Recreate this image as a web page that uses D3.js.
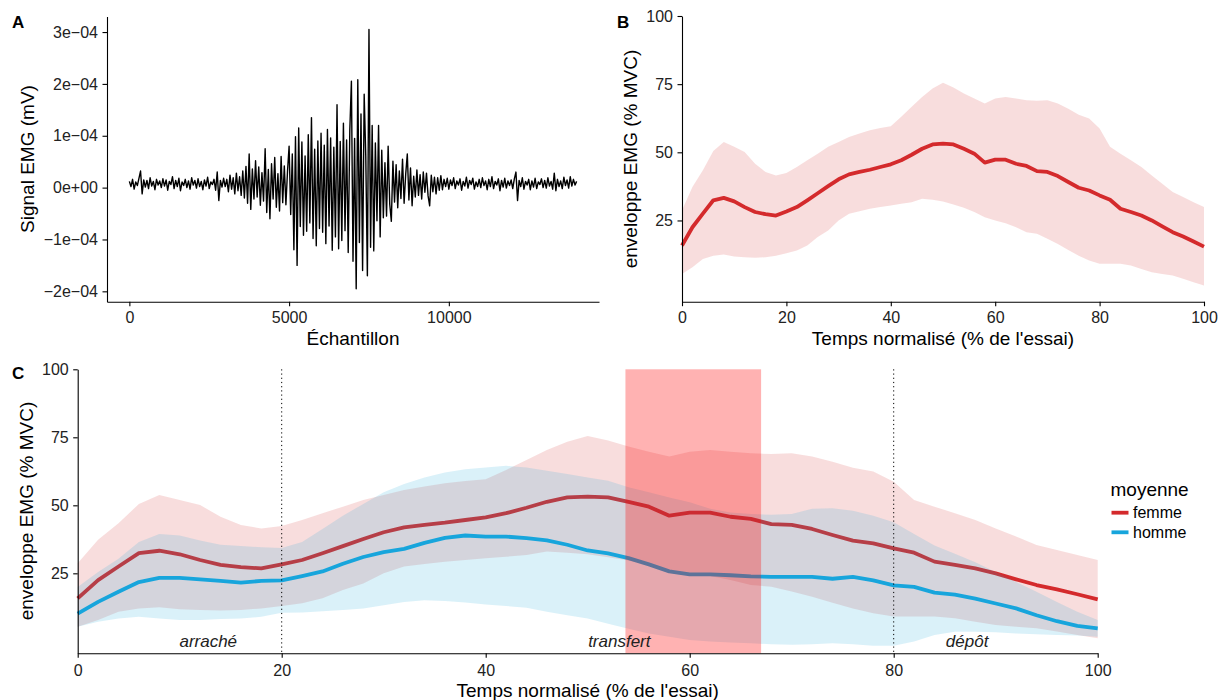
<!DOCTYPE html>
<html>
<head>
<meta charset="utf-8">
<script src="https://cdn.jsdelivr.net/npm/d3@7"></script>
<style>
  body { margin: 0; background: #fff; }
  text { font-family: "Liberation Sans", Arial, sans-serif; }
</style>
</head>
<body>
<div id="chart"></div>
<script>
// ---- Panel A : raw EMG signal (one value every 50 samples, unit 1e-5 mV) ----
var emgStep = 50;
var emgValues = [
  1.2,0.2,1.6,-0.3,1.1,0.4,1.8,3.2,-1.2,1.5,0.1,1.4,-0.2,1.9,0.3,1.2,-0.4,1.6,0.5,1.3,
  0.0,1.7,0.3,1.5,-0.5,1.2,0.6,2.1,-0.2,1.4,0.2,1.8,-0.6,1.1,0.4,1.6,0.0,1.3,-0.3,1.9,
  0.5,1.4,-0.1,1.7,0.2,1.2,-0.4,1.5,0.3,2.0,-0.2,1.1,0.6,1.6,-0.5,3.0,-2.5,1.4,0.1,1.8,
  0.2,1.6,-0.8,2.4,-0.3,1.9,-1.2,2.8,-0.6,2.1,-1.5,3.2,-2.0,4.1,-3.0,6.5,-4.2,3.6,-2.2,5.2,
  -1.8,4.0,-3.4,2.9,-2.6,7.5,-4.8,3.5,-6.0,4.6,-2.2,5.8,-3.8,2.7,-4.5,6.0,-2.9,4.2,-3.3,3.1,
  8.0,-5.2,6.5,-12.0,9.8,-15.0,11.5,-7.5,8.8,-9.2,6.1,-8.4,10.2,-6.8,13.5,-9.8,7.4,-11.2,9.0,-7.9,
  10.5,-8.6,8.2,-10.8,11.2,-7.4,9.6,-12.1,7.8,-9.5,16.0,-11.8,8.9,-10.2,12.4,-8.3,9.2,-12.5,11.0,20.5,
  -14.2,9.5,-19.5,20.8,-10.6,14.2,-16.0,18.0,6.0,-17.0,30.5,-11.5,12.0,-12.2,8.6,-6.4,12.0,-9.5,7.2,-5.8,
  4.8,-5.5,8.0,-3.2,-6.5,5.1,-2.8,4.4,-3.9,3.2,-2.1,5.5,-3.0,2.6,6.5,-2.4,3.8,-3.5,2.2,-1.8,
  3.4,-1.5,2.5,-2.2,3.0,-0.9,2.8,-1.6,-3.5,2.4,-0.8,2.0,-1.2,1.9,-0.5,2.3,-0.4,1.6,0.2,1.8,
  -0.3,1.5,0.4,1.9,-0.2,1.3,0.5,1.7,-0.5,1.2,0.3,2.0,-0.1,1.4,0.6,1.8,-0.3,1.1,0.2,1.6,
  0.0,1.9,0.4,1.3,-0.4,1.6,0.2,2.1,-0.2,1.2,0.5,1.7,-0.6,1.4,0.1,1.8,-0.1,1.3,0.4,1.5,
  -0.2,1.7,3.0,-2.5,1.4,0.2,1.9,-0.3,1.2,0.5,1.6,-0.4,1.3,0.1,1.8,-0.2,1.1,0.6,1.7,0.0,
  1.4,-0.1,1.9,0.3,1.2,-0.3,2.8,-0.6,1.6,0.2,1.3,-0.2,2.0,0.4,1.5,-0.1,2.1,0.3,1.6,0.5,
  1.2
];
var emgTicksX = [0, 5000, 10000];
var emgTicksY = [-2e-4, -1e-4, 0, 1e-4, 2e-4, 3e-4];

// ---- Panels B & C : normalised envelopes (% MVC) ----
var timePct = [0,2,4,6,8,10,12,14,16,18,20,22,24,26,28,30,32,34,36,38,40,42,44,46,48,50,
  52,54,56,58,60,62,64,66,68,70,72,74,76,78,80,82,84,86,88,90,92,94,96,98,100];

var femmeMean = [15.8,22.5,27.5,32.4,33.3,32.0,29.9,28.1,27.3,26.8,28.3,29.9,32.4,35.0,37.6,40.1,
  41.9,42.8,43.6,44.6,45.6,47.1,49.1,51.3,52.9,53.2,52.9,51.3,49.5,46.2,47.3,47.3,45.8,45.0,43.1,
  42.8,41.3,39.1,37.0,36.0,34.2,32.6,29.3,28.1,26.8,25.0,22.8,20.7,19.1,17.3,15.4];
var femmeHigh = [28.7,37.3,43.4,50.5,53.8,52.0,50.1,45.8,42.8,41.5,42.4,44.6,47.1,49.5,52.0,53.8,
  55.6,56.9,58.1,58.9,59.6,63.0,66.7,70.3,73.4,75.5,73.8,71.6,69.7,67.9,69.7,70.3,69.7,69.1,68.9,
  69.1,67.9,66.0,63.8,62.4,58.7,52.0,49.5,47.1,44.6,41.5,38.5,35.4,33.6,31.7,29.9];
var femmeLow = [5.4,7.8,10.9,12.1,12.5,11.8,11.5,11.3,11.5,12.1,13.0,14.0,15.8,18.9,21.3,25.0,
  27.5,28.4,29.3,29.9,30.5,31.1,31.7,33.0,32.6,32.0,30.9,29.7,28.1,26.2,25.0,24.0,22.5,20.7,20.1,
  18.3,16.4,14.2,12.1,10.3,9.1,9.1,9.1,8.5,7.2,6.0,5.4,4.8,3.6,2.3,1.1];

var hommeMean = [10.2,14.5,18.2,21.8,23.3,23.3,22.8,22.2,21.6,22.2,22.4,24.0,25.7,28.5,31.0,32.8,
  34.0,36.2,38.0,38.9,38.5,38.5,37.9,37.1,35.5,33.4,32.3,30.6,28.3,25.7,24.6,24.6,24.3,23.9,23.7,
  23.7,23.7,23.0,23.7,22.4,20.6,20.0,17.9,17.2,15.7,13.9,12.1,9.6,7.4,5.7,4.8];
var hommeHigh = [20.0,25.5,30.4,36.5,39.5,38.9,37.1,35.5,35.0,34.6,34.3,36.5,41.3,46.2,50.5,54.8,
  57.8,60.2,62.1,63.3,63.9,64.5,63.9,62.7,61.5,60.2,59.0,56.6,54.8,52.9,51.1,48.7,47.4,46.8,46.5,
  46.8,48.7,48.9,48.0,46.2,43.8,39.5,35.2,32.2,29.1,25.5,21.8,18.2,14.5,10.9,7.8];
var hommeLow = [5.4,7.2,8.4,9.0,8.4,7.8,7.8,8.2,8.4,9.0,10.5,10.6,11.1,11.5,12.1,13.3,
  14.5,15.1,14.8,14.3,13.5,13.0,12.3,10.9,9.6,8.4,6.5,4.6,2.9,1.7,0.5,-0.1,-0.4,-0.7,-1.1,
  -1.3,-1.1,-0.7,-1.1,-1.6,-1.6,-0.1,2.3,3.5,3.5,3.3,2.9,2.6,2.3,2.1,1.7];

var pctTicks = [0, 20, 40, 60, 80, 100];
var envTicksY = [25, 50, 75, 100];
var groups = ['femme', 'homme'];
var phaseLines = [20, 80];
var phaseNames = ['arraché', 'transfert', 'dépôt'];
var phasePos = [12.8, 53.1, 87.2];
var transfertZone = [53.7, 67.0];

var fontFam = '"Liberation Sans", Arial, sans-serif';
var color = d3.scaleOrdinal().domain(groups).range(['#d42a2c', '#17a5dc']);

var svg = d3.select('#chart')
  .append('svg')
    .attr('width', 1222)
    .attr('height', 700)
    .style('background-color', 'white');

// draw an axis the ggplot classic way
var drawAxis = function(axis, transform){
  var a = svg.append('g')
    .attr('transform', transform)
    .call(axis);
  // d3 sets its own font on the group, so override it after the call
  a.attr('font-family', fontFam).attr('font-size', 16);
  a.select('.domain').attr('stroke', '#000').attr('stroke-width', 1.1);
  a.selectAll('.tick line').attr('stroke', '#000').attr('stroke-width', 1.1);
  a.selectAll('.tick text').attr('fill', '#222');
  return a;
};

var addText = function(txt, x, y, opts){
  opts = opts || {};
  var t = svg.append('text')
    .attr('x', x).attr('y', y)
    .attr('font-size', opts.size || 19)
    .attr('text-anchor', opts.anchor || 'middle')
    .attr('fill', opts.fill || '#000')
    .text(txt);
  if (opts.weight) t.attr('font-weight', opts.weight);
  if (opts.style) t.attr('font-style', opts.style);
  if (opts.rotate) t.attr('transform', 'rotate(-90,' + x + ',' + y + ')');
  if (opts.baseline) t.attr('dominant-baseline', opts.baseline);
  return t;
};

//---------------- Panel A ----------------
var emgExt = d3.extent(emgValues);
var emgPad = (emgExt[1] - emgExt[0]) * 0.05;
var xA = d3.scaleLinear().domain([-700, 14700]).range([107, 599]);
var yA = d3.scaleLinear()
  .domain([(emgExt[0] - emgPad) * 1e-5, (emgExt[1] + emgPad) * 1e-5])
  .range([301.7, 16.5]);

svg.append('path')
  .datum(emgValues)
  .attr('fill', 'none')
  .attr('stroke', '#000')
  .attr('stroke-width', 1.4)
  .attr('stroke-linejoin', 'round')
  .attr('d', d3.line()
    .x(function(d, i){ return xA(i * emgStep); })
    .y(function(d){ return yA(d * 1e-5); }));

var sciFmt = function(d){
  if (d === 0) return '0e+00';
  var m = Math.round(Math.abs(d) * 1e4);
  return (d < 0 ? '\u2212' : '') + m + 'e\u221204';
};
drawAxis(d3.axisLeft(yA).tickValues(emgTicksY).tickFormat(sciFmt)
  .tickSize(4.5).tickPadding(4.5).tickSizeOuter(0), 'translate(107,0)');
drawAxis(d3.axisBottom(xA).tickValues(emgTicksX).tickFormat(d3.format('d'))
  .tickSize(4.5).tickPadding(5.5).tickSizeOuter(0), 'translate(0,301.7)');

addText('Échantillon', 353, 345);
addText('Signal EMG (mV)', 34, 159, {rotate: true});
addText('A', 12, 28.3, {anchor: 'start', weight: 'bold', size: 17});

//---------------- Panel B ----------------
var xB = d3.scaleLinear().domain([0, 100]).range([682, 1204]);
var yB = d3.scaleLinear().domain([-4.8, 100]).range([301.7, 16]);

var areaB = d3.area()
  .x(function(d, i){ return xB(timePct[i]); })
  .y0(function(d, i){ return yB(femmeLow[i]); })
  .y1(function(d){ return yB(d); });
var lineB = d3.line()
  .x(function(d, i){ return xB(timePct[i]); })
  .y(function(d){ return yB(d); });

svg.append('path').datum(femmeHigh)
  .attr('fill', color('femme')).attr('fill-opacity', 0.16)
  .attr('d', areaB);
svg.append('path').datum(femmeMean)
  .attr('fill', 'none').attr('stroke', color('femme'))
  .attr('stroke-width', 3.8).attr('stroke-linejoin', 'round')
  .attr('d', lineB);

drawAxis(d3.axisLeft(yB).tickValues(envTicksY)
  .tickSize(4.5).tickPadding(4.5).tickSizeOuter(0), 'translate(682,0)');
drawAxis(d3.axisBottom(xB).tickValues(pctTicks)
  .tickSize(4.5).tickPadding(5.5).tickSizeOuter(0), 'translate(0,301.7)');

addText("Temps normalisé (% de l'essai)", 943, 345);
addText('enveloppe EMG (% MVC)', 637, 159, {rotate: true});
addText('B', 617, 28.3, {anchor: 'start', weight: 'bold', size: 17});

//---------------- Panel C ----------------
var xC = d3.scaleLinear().domain([0, 100]).range([77.7, 1097.7]);
var yC = d3.scaleLinear().domain([-4.4, 100]).range([653.3, 369.3]);

var seriesC = [
  {name: 'femme', mean: femmeMean, low: femmeLow, high: femmeHigh},
  {name: 'homme', mean: hommeMean, low: hommeLow, high: hommeHigh}
];

// ribbon then line, one group after another
seriesC.forEach(function(s){
  svg.append('path').datum(s.high)
    .attr('fill', color(s.name)).attr('fill-opacity', 0.16)
    .attr('d', d3.area()
      .x(function(d, i){ return xC(timePct[i]); })
      .y0(function(d, i){ return yC(s.low[i]); })
      .y1(function(d){ return yC(d); }));
  svg.append('path').datum(s.mean)
    .attr('fill', 'none').attr('stroke', color(s.name))
    .attr('stroke-width', 3.8).attr('stroke-linejoin', 'round')
    .attr('d', d3.line()
      .x(function(d, i){ return xC(timePct[i]); })
      .y(function(d){ return yC(d); }));
});

// phase limits
svg.selectAll('.phase-line').data(phaseLines).enter().append('line')
  .attr('class', 'phase-line')
  .attr('x1', function(d){ return xC(d); })
  .attr('x2', function(d){ return xC(d); })
  .attr('y1', yC.range()[1])
  .attr('y2', yC.range()[0])
  .attr('stroke', '#000')
  .attr('stroke-width', 1)
  .attr('stroke-dasharray', '1.2,3');

// highlighted zone
svg.append('rect')
  .attr('x', xC(transfertZone[0]))
  .attr('width', xC(transfertZone[1]) - xC(transfertZone[0]))
  .attr('y', yC.range()[1])
  .attr('height', yC.range()[0] - yC.range()[1])
  .attr('fill', 'red')
  .attr('fill-opacity', 0.3);

svg.selectAll('.phase-label').data(phaseNames).enter().append('text')
  .attr('class', 'phase-label')
  .attr('x', function(d, i){ return xC(phasePos[i]); })
  .attr('y', yC(0))
  .attr('dominant-baseline', 'central')
  .attr('text-anchor', 'middle')
  .attr('font-style', 'italic')
  .attr('font-size', 17)
  .attr('fill', '#222')
  .text(function(d){ return d; });

drawAxis(d3.axisLeft(yC).tickValues(envTicksY)
  .tickSize(4.5).tickPadding(4.5).tickSizeOuter(0), 'translate(77.7,0)');
drawAxis(d3.axisBottom(xC).tickValues(pctTicks)
  .tickSize(4.5).tickPadding(6.5).tickSizeOuter(0), 'translate(0,653.3)');

addText("Temps normalisé (% de l'essai)", 587.7, 697);
addText('enveloppe EMG (% MVC)', 33, 511, {rotate: true});
addText('C', 12, 379, {anchor: 'start', weight: 'bold', size: 17});

// legend
addText('moyenne', 1110.5, 496, {anchor: 'start'});
var legend = svg.selectAll('.legend').data(groups).enter().append('g')
  .attr('class', 'legend')
  .attr('transform', function(d, i){ return 'translate(1111.5,' + (512.7 + i * 19.6) + ')'; });
legend.append('line')
  .attr('x1', 0).attr('x2', 17)
  .attr('stroke', function(d){ return color(d); })
  .attr('stroke-width', 3.8);
legend.append('text')
  .attr('x', 21.5)
  .attr('dominant-baseline', 'central')
  .attr('font-size', 16)
  .attr('fill', '#000')
  .text(function(d){ return d; });
</script>
</body>
</html>
